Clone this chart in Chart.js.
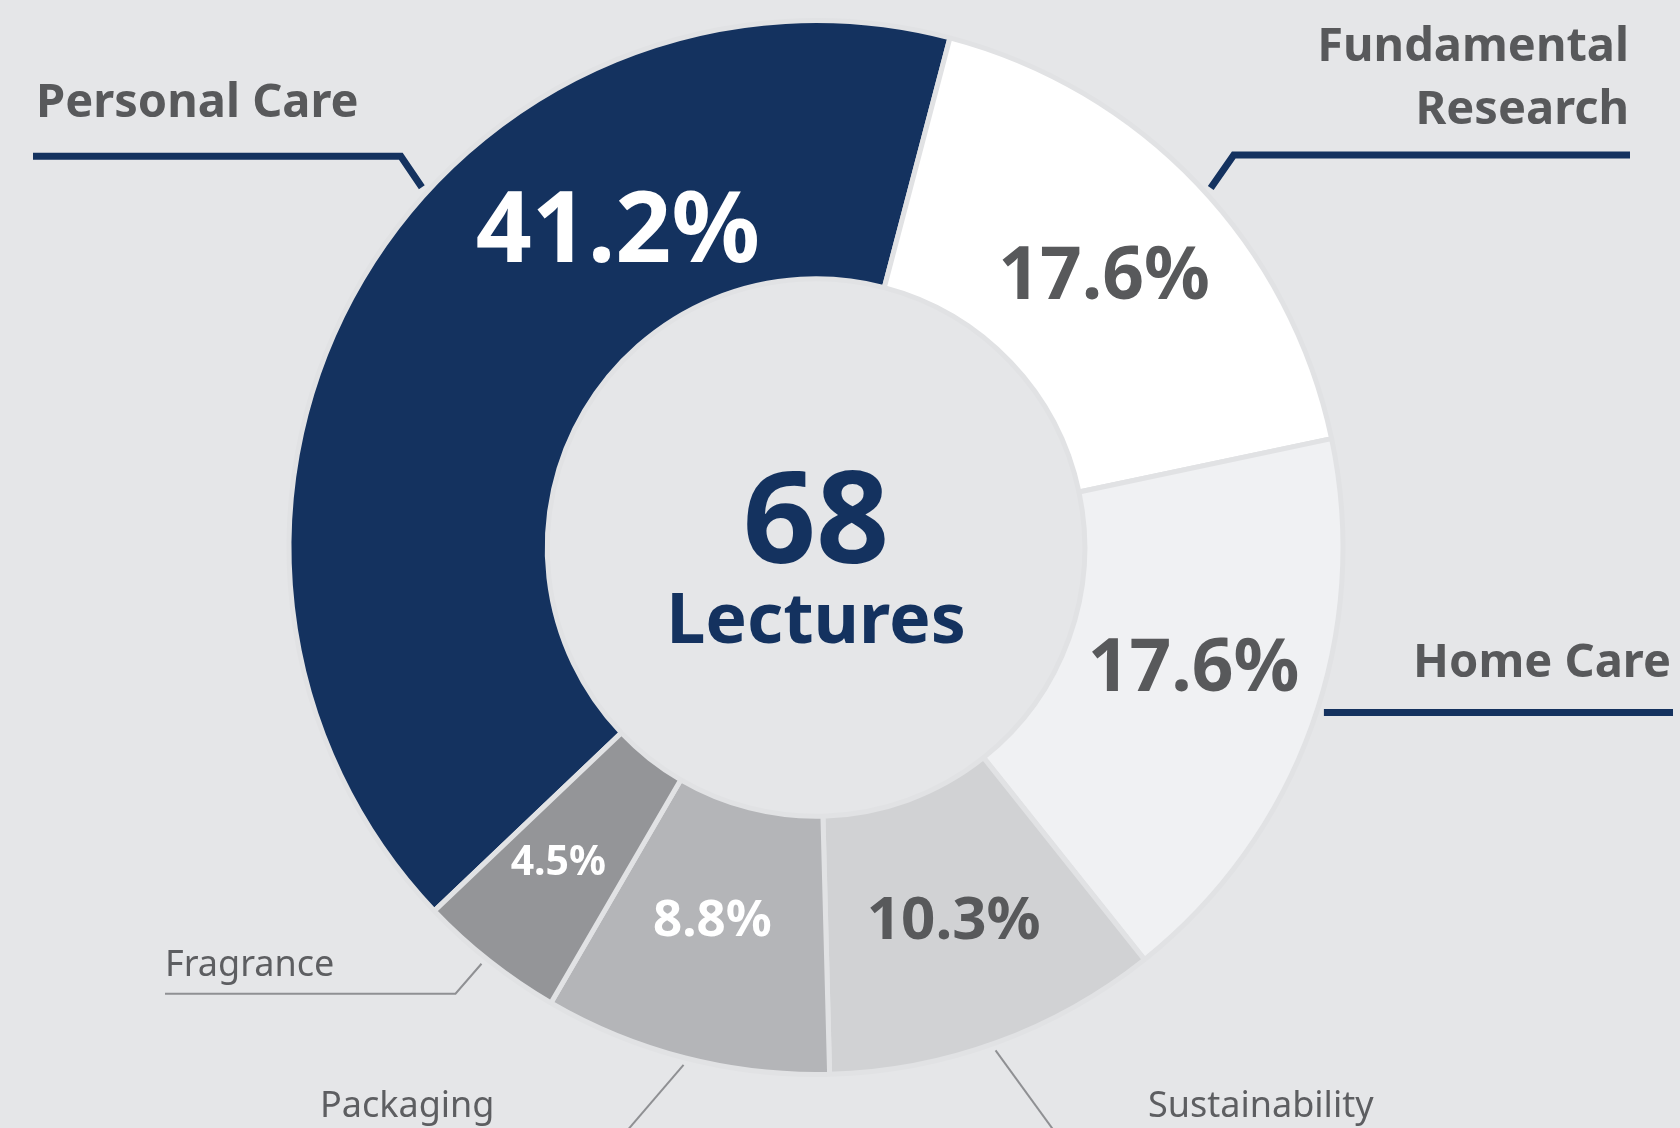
<!DOCTYPE html>
<html>
<head>
<meta charset="utf-8">
<script src="https://cdn.jsdelivr.net/npm/chart.js"></script>
<style>
  html, body { margin: 0; padding: 0; background: #e5e6e8; }
  #wrap { width: 1680px; height: 1128px; }
</style>
</head>
<body>
<div id="wrap"><canvas id="grafico"></canvas></div>
<script>
// data
const categorias = ['Personal Care', 'Fundamental Research', 'Home Care', 'Sustainability', 'Packaging', 'Fragrance'];
const percentuais = [41.2, 17.6, 17.6, 10.3, 8.8, 4.5];
const totalPalestras = 68;
const textoCentro = 'Lectures';

const cores = ['#14325f', '#ffffff', '#f0f1f3', '#d1d2d4', '#b4b5b8', '#949598'];
const coresTexto = ['#ffffff', '#58595b', '#58595b', '#58595b', '#ffffff', '#ffffff'];

const navy = '#14325f';
const cinzaTexto = '#58595b';
const fonte = '"Noto Sans", "Open Sans", sans-serif';

// where the % sits inside each slice: [fraction along the slice, fraction across the ring], size
const posPct = [[0.687, 0.42], [0.5, 0.5], [0.46, 0.49], [0.49, 0.49], [0.54, 0.45], [0.57, 0.53]];
const tamPct = [98, 73, 73, 60, 51, 41];

// callouts (leader lines + names)
const chamadas = [
  { t: 0.58, dobra: [-21, -31], fimX: 33, linhas: ['Personal Care'], tx: 36, ty: [117], align: 'left', forte: true },
  { t: 0.52, dobra: [23, -33], fimX: 1630, linhas: ['Fundamental', 'Research'], tx: 1629, ty: [61, 124], align: 'right', forte: true },
  { t: 0.472, dobra: [0, 0], fimX: 1673, linhas: ['Home Care'], tx: 1671, ty: [677], align: 'right', forte: true },
  { t: 0.51, dobra: [64, 88], fimX: null, linhas: ['Sustainability'], tx: 1148, ty: [1117], align: 'left', forte: false },
  { t: 0.50, dobra: [-60, 70], fimX: null, linhas: ['Packaging'], tx: 320, ty: [1117], align: 'left', forte: false },
  { t: 0.53, dobra: [-26, 30], fimX: 165, linhas: ['Fragrance'], tx: 165, ty: [976], align: 'left', forte: false }
];

function pontoNoArco(arco, t, r) {
  const a = arco.startAngle + t * (arco.endAngle - arco.startAngle);
  return { x: arco.x + r * Math.cos(a), y: arco.y + r * Math.sin(a) };
}

const rotulos = {
  id: 'rotulos',
  afterDatasetsDraw(chart) {
    const ctx = chart.ctx;
    const arcos = chart.getDatasetMeta(0).data;
    ctx.save();

    // percentages
    arcos.forEach(function (el, i) {
      const arco = el.getProps(['x', 'y', 'startAngle', 'endAngle', 'innerRadius', 'outerRadius'], true);
      const r = arco.innerRadius + posPct[i][1] * (arco.outerRadius - arco.innerRadius);
      const p = pontoNoArco(arco, posPct[i][0], r);
      ctx.font = `bold ${tamPct[i]}px ${fonte}`;
      ctx.fillStyle = coresTexto[i];
      ctx.textAlign = 'center';
      ctx.textBaseline = 'alphabetic';
      ctx.fillText(percentuais[i].toFixed(1) + '%', p.x, p.y + tamPct[i] * 0.357);
    });

    // center
    const c = arcos[0];
    ctx.fillStyle = navy;
    ctx.textAlign = 'center';
    ctx.font = `bold 128px ${fonte}`;
    ctx.fillText(String(totalPalestras), c.x, c.y + 15);
    ctx.font = `bold 70px ${fonte}`;
    ctx.fillText(textoCentro, c.x, c.y + 95);

    // callouts
    chamadas.forEach(function (ch, i) {
      const arco = arcos[i].getProps(['x', 'y', 'startAngle', 'endAngle', 'innerRadius', 'outerRadius'], true);
      const ini = pontoNoArco(arco, ch.t, arco.outerRadius + 7);
      const dobra = { x: ini.x + ch.dobra[0], y: ini.y + ch.dobra[1] };
      ctx.beginPath();
      ctx.moveTo(ini.x, ini.y);
      ctx.lineTo(dobra.x, dobra.y);
      if (ch.fimX !== null) ctx.lineTo(ch.fimX, dobra.y);
      ctx.lineWidth = ch.forte ? 7 : 2;
      ctx.strokeStyle = ch.forte ? navy : '#8f9093';
      ctx.lineJoin = 'miter';
      ctx.stroke();

      ctx.font = ch.forte ? `bold 47px ${fonte}` : `36px ${fonte}`;
      ctx.fillStyle = ch.forte ? cinzaTexto : '#5d5e61';
      ctx.textAlign = ch.align;
      ch.linhas.forEach(function (linha, j) {
        ctx.fillText(linha, ch.tx, ch.ty[j]);
      });
    });

    ctx.restore();
  }
};

new Chart(document.getElementById('grafico'), {
  type: 'doughnut',
  data: {
    labels: categorias,
    datasets: [{
      data: percentuais,
      backgroundColor: cores,
      borderColor: '#e1e2e4',
      borderWidth: 5
    }]
  },
  options: {
    responsive: true,
    maintainAspectRatio: false,
    animation: false,
    rotation: -133.6,
    cutout: '51%',
    layout: { padding: { top: 18, bottom: 51, left: 0, right: 48 } },
    plugins: {
      legend: { display: false },
      tooltip: { enabled: false }
    }
  },
  plugins: [rotulos]
});
</script>
</body>
</html>
